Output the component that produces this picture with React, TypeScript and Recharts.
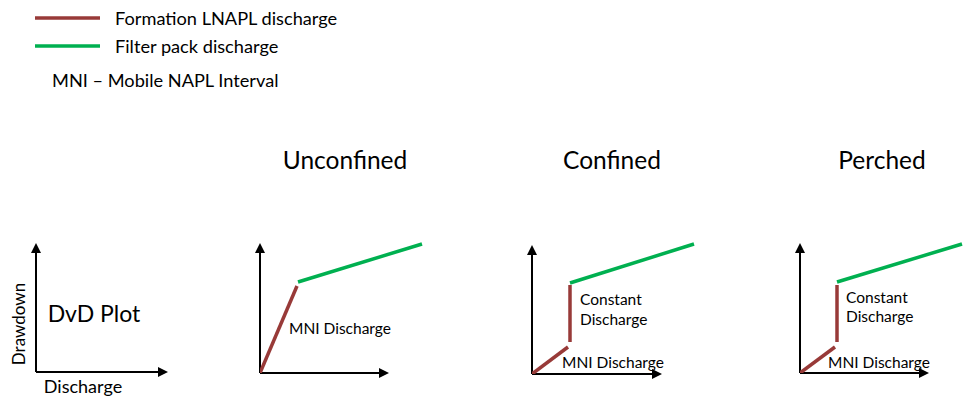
import React from "react";
import { LineChart, Line, XAxis, YAxis, ReferenceLine, ReferenceDot } from "recharts";

type Pt = { x: number; y: number };

const BROWN = "#983a38";
const GREEN = "#00b050";
const FONT = "Lato, 'Open Sans', sans-serif";

// panel titles
const panelTitles = ["Unconfined", "Confined", "Perched"];

// axis extents (x end, y end) in plot units, per panel
const dvdAxis = [13.0, 12.7];
const unconfinedAxis = [12.7, 12.8];
const confinedAxis = [12.8, 12.7];
const perchedAxis = [12.7, 12.8];

// Unconfined
const unconfinedFormation: Pt[] = [{ x: 0, y: 0 }, { x: 3.7, y: 8.7 }];
const unconfinedFilter: Pt[] = [{ x: 3.8, y: 9.1 }, { x: 16.2, y: 12.9 }];

// Confined
const confinedMni: Pt[] = [{ x: 0, y: 0 }, { x: 3.6, y: 2.7 }];
const confinedConstant: Pt[] = [{ x: 3.8, y: 3.2 }, { x: 3.8, y: 8.9 }];
const confinedFilter: Pt[] = [{ x: 3.8, y: 9.1 }, { x: 16.2, y: 13.0 }];

// Perched
const perchedMni: Pt[] = [{ x: 0, y: 0 }, { x: 3.5, y: 2.6 }];
const perchedConstant: Pt[] = [{ x: 3.7, y: 3.1 }, { x: 3.7, y: 8.8 }];
const perchedFilter: Pt[] = [{ x: 3.7, y: 9.1 }, { x: 16.2, y: 12.9 }];

const X_MAX = 17;
const Y_MAX = 13.5;
const UNIT = 10;
const M = 10;

type Series = { data: Pt[]; color: string };

function arrowRight(p: any) {
  const { cx, cy } = p;
  return <polygon points={`${cx + 2},${cy} ${cx - 8},${cy - 5} ${cx - 8},${cy + 5}`} fill="#000" />;
}
function arrowUp(p: any) {
  const { cx, cy } = p;
  return <polygon points={`${cx},${cy - 2} ${cx - 5},${cy + 8} ${cx + 5},${cy + 8}`} fill="#000" />;
}

function Panel({ ox, oy, axis, series }: { ox: number; oy: number; axis: number[]; series: Series[] }) {
  const w = X_MAX * UNIT + 2 * M;
  const h = Y_MAX * UNIT + 2 * M;
  return (
    <div style={{ position: "absolute", left: ox - M, top: oy - Y_MAX * UNIT - M }}>
      <LineChart width={w} height={h} margin={{ top: M, right: M, bottom: M, left: M }}>
        <XAxis type="number" dataKey="x" domain={[0, X_MAX]} hide allowDataOverflow />
        <YAxis type="number" dataKey="y" domain={[0, Y_MAX]} hide allowDataOverflow />
        <ReferenceLine segment={[{ x: 0, y: 0 }, { x: axis[0], y: 0 }]} stroke="#000" strokeWidth={2} />
        <ReferenceLine segment={[{ x: 0, y: 0 }, { x: 0, y: axis[1] }]} stroke="#000" strokeWidth={2} />
        <ReferenceDot x={axis[0]} y={0} r={0} shape={arrowRight} />
        <ReferenceDot x={0} y={axis[1]} r={0} shape={arrowUp} />
        {series.map((s, i) => (
          <Line
            key={i}
            data={s.data}
            dataKey="y"
            stroke={s.color}
            strokeWidth={3.5}
            dot={false}
            activeDot={false}
            isAnimationActive={false}
          />
        ))}
      </LineChart>
    </div>
  );
}

function Txt({ x, y, size = 15.5, children, anchor = "left", rotate = false }: any) {
  const style: React.CSSProperties = {
    position: "absolute",
    left: x,
    top: y,
    fontSize: size,
    fontFamily: FONT,
    color: "#000",
    whiteSpace: "nowrap",
    lineHeight: 1,
    transform:
      (anchor === "center" ? "translate(-50%, -50%)" : "translate(0, -50%)") +
      (rotate ? " rotate(-90deg)" : ""),
  };
  return <div style={style}>{children}</div>;
}

export default function App() {
  return (
    <div style={{ position: "fixed", left: 0, top: 0, width: 975, height: 411, background: "#fff", overflow: "hidden" }}>
      {/* legend */}
      <svg style={{ position: "absolute", left: 0, top: 0 }} width={120} height={60}>
        <line x1={35} y1={18} x2={100} y2={18} stroke={BROWN} strokeWidth={3.5} />
        <line x1={35} y1={46} x2={100} y2={46} stroke={GREEN} strokeWidth={3.5} />
      </svg>
      <Txt x={115} y={18} size={18.2}>Formation LNAPL discharge</Txt>
      <Txt x={115} y={46} size={18.2}>Filter pack discharge</Txt>
      <Txt x={52} y={80} size={18.2}>MNI – Mobile NAPL Interval</Txt>

      {/* titles */}
      <Txt x={345} y={160} size={24.5} anchor="center">{panelTitles[0]}</Txt>
      <Txt x={612} y={160} size={24.5} anchor="center">{panelTitles[1]}</Txt>
      <Txt x={882} y={160} size={24.5} anchor="center">{panelTitles[2]}</Txt>

      {/* DvD plot */}
      <Panel ox={36} oy={372} axis={dvdAxis} series={[]} />
      <Txt x={94} y={313} size={23} anchor="center">DvD Plot</Txt>
      <Txt x={18} y={324} size={17} anchor="center" rotate>Drawdown</Txt>
      <Txt x={83} y={386} size={18} anchor="center">Discharge</Txt>

      {/* Unconfined */}
      <Panel
        ox={260}
        oy={373}
        axis={unconfinedAxis}
        series={[
          { data: unconfinedFormation, color: BROWN },
          { data: unconfinedFilter, color: GREEN },
        ]}
      />
      <Txt x={289} y={329}>MNI Discharge</Txt>

      {/* Confined */}
      <Panel
        ox={532}
        oy={374}
        axis={confinedAxis}
        series={[
          { data: confinedMni, color: BROWN },
          { data: confinedConstant, color: BROWN },
          { data: confinedFilter, color: GREEN },
        ]}
      />
      <Txt x={580} y={300}>Constant</Txt>
      <Txt x={580} y={320}>Discharge</Txt>
      <Txt x={562} y={363}>MNI Discharge</Txt>

      {/* Perched */}
      <Panel
        ox={800}
        oy={373}
        axis={perchedAxis}
        series={[
          { data: perchedMni, color: BROWN },
          { data: perchedConstant, color: BROWN },
          { data: perchedFilter, color: GREEN },
        ]}
      />
      <Txt x={846} y={298}>Constant</Txt>
      <Txt x={846} y={317}>Discharge</Txt>
      <Txt x={828} y={363}>MNI Discharge</Txt>
    </div>
  );
}
